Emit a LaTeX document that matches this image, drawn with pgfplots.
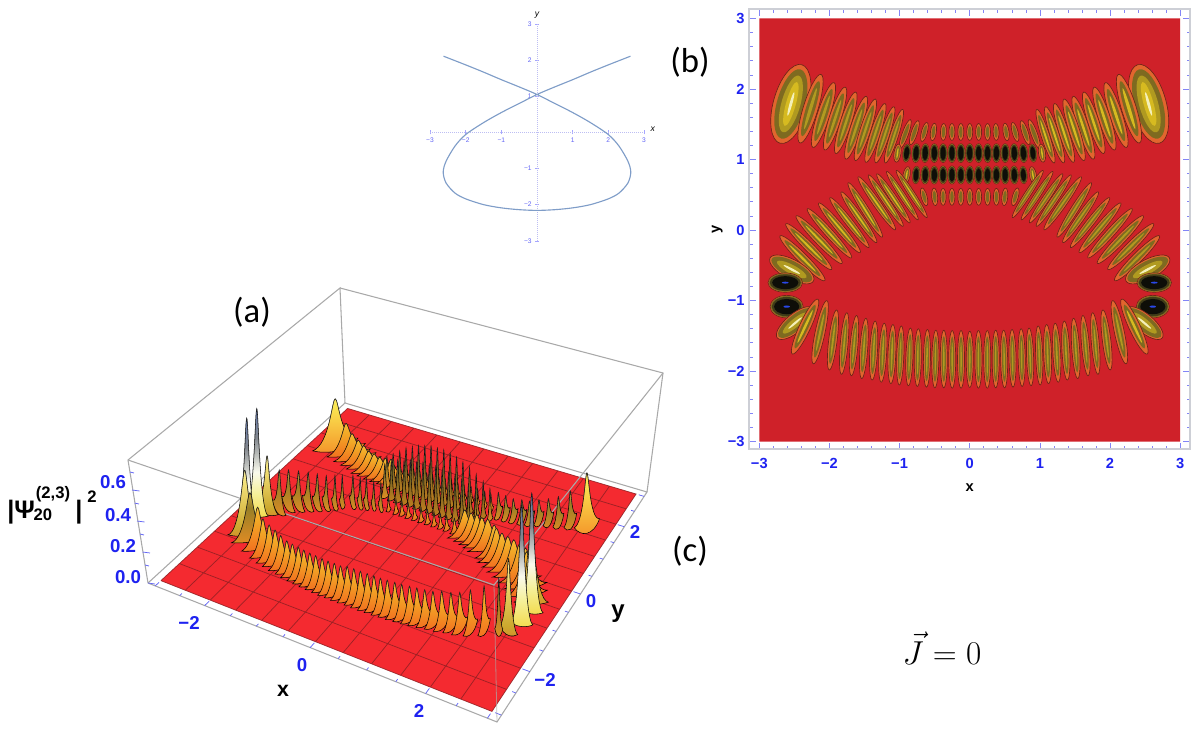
\documentclass[border=0pt]{standalone}
\usepackage{pgfplots}
\usepackage{pgfplotstable}
\pgfplotsset{compat=1.18}
\usepackage{fontspec}
\setmainfont{Liberation Sans}
\newfontfamily\callab{Carlito}

\definecolor{tickblue}{HTML}{1E22F0}
\definecolor{bred}{HTML}{CF2129}
\definecolor{fred}{HTML}{F42A30}
\definecolor{gridred}{HTML}{8E1F22}
\definecolor{boxgray}{HTML}{A9A9A9}
\definecolor{curveblue}{HTML}{7F9DC8}
\definecolor{frameg}{HTML}{CDCFD6}
\definecolor{lorange}{HTML}{E2652E}
\definecolor{lolive}{HTML}{7E6A20}
\definecolor{lyellow}{HTML}{D6BA20}
\definecolor{ldark}{HTML}{403C18}
\definecolor{lblack}{HTML}{0E0E08}
\definecolor{ledge}{HTML}{6E2418}
\definecolor{glow}{HTML}{F0802E}
\definecolor{lwhite}{HTML}{F4F0B8}
\definecolor{lblue}{HTML}{2A48E8}
\definecolor{lmid}{HTML}{B09A20}

\pgfdeclareverticalshading{lobe0}{100bp}{rgb(0bp)=(.957,.22,.16);rgb(22bp)=(.95,.42,.12);rgb(60bp)=(.95,.66,.15);rgb(100bp)=(.96,.84,.3)}
\pgfdeclareverticalshading{lobe1}{100bp}{rgb(0bp)=(.957,.22,.16);rgb(22bp)=(.9,.55,.14);rgb(60bp)=(.6,.5,.15);rgb(86bp)=(.9,.82,.35);rgb(100bp)=(.95,.93,.7)}
\pgfdeclareverticalshading{lobe2}{100bp}{rgb(0bp)=(.957,.22,.16);rgb(20bp)=(.8,.5,.12);rgb(58bp)=(.45,.4,.14);rgb(85bp)=(.85,.78,.38);rgb(100bp)=(.94,.94,.82)}
\pgfdeclareverticalshading{lobe3}{100bp}{rgb(0bp)=(.957,.22,.16);rgb(45bp)=(.9,.55,.12);rgb(100bp)=(.93,.8,.25)}
\pgfdeclareverticalshading{lobe4}{100bp}{rgb(0bp)=(.957,.22,.16);rgb(30bp)=(.96,.62,.18);rgb(68bp)=(.98,.9,.32);rgb(100bp)=(1,.97,.62)}
\pgfdeclareverticalshading{lobe5}{100bp}{rgb(0bp)=(.957,.22,.16);rgb(12bp)=(.88,.55,.12);rgb(24bp)=(.95,.85,.28);rgb(36bp)=(.96,.94,.6);rgb(46bp)=(.98,.98,.93);rgb(62bp)=(.5,.52,.55);rgb(80bp)=(.38,.5,.8);rgb(100bp)=(.18,.34,.85)}
\pgfdeclareverticalshading{lobe6}{100bp}{rgb(0bp)=(.957,.22,.16);rgb(32bp)=(.8,.66,.18);rgb(68bp)=(.96,.9,.5);rgb(88bp)=(.96,.95,.85);rgb(100bp)=(.72,.72,.72)}
\pgfdeclareplotmark{nothing}{}

% one row per lobe of the density: centre, half length, half width, angle of the long axis, peak height, kind
\pgfplotstableread{
x y L W a h c
-2.55 1.787 .58 .25 74.5 .30 4
2.55 1.787 .58 .25 105.5 .30 4
-2.27 1.72 .51 .105 73 .175 0
2.27 1.72 .51 .105 107 .175 1
-2.085 1.63 .485 .09 72 .14 0
2.085 1.63 .485 .09 108 .14 1
-1.92 1.58 .47 .085 72 .12 0
1.92 1.58 .47 .085 108 .12 1
-1.767 1.52 .46 .08 72 .11 0
1.767 1.52 .46 .08 108 .11 1
-1.62 1.45 .47 .08 72 .10 0
1.62 1.45 .47 .08 108 .10 1
-1.487 1.42 .46 .075 72 .10 0
1.487 1.42 .46 .075 108 .10 1
-1.344 1.376 .44 .07 72 .10 0
1.344 1.376 .44 .07 108 .10 1
-1.21 1.35 .42 .065 72 .11 0
1.21 1.35 .42 .065 108 .11 1
-1.08 1.33 .40 .06 72 .12 0
1.08 1.33 .40 .06 108 .12 1
-.92 1.36 .22 .045 70 .09 3
-.79 1.38 .18 .045 72 .09 3
-.646 1.39 .14 .042 75 .09 3
-.518 1.39 .125 .042 82 .09 3
-.375 1.39 .12 .042 88 .09 3
-.254 1.39 .12 .042 90 .09 3
-.127 1.39 .12 .042 90 .09 3
0 1.39 .12 .042 90 .09 3
.127 1.39 .12 .042 90 .09 3
.254 1.39 .12 .042 90 .09 3
.375 1.39 .12 .042 92 .09 3
.518 1.39 .125 .042 98 .09 3
.646 1.39 .14 .042 105 .09 3
.79 1.38 .18 .045 108 .09 3
.92 1.36 .22 .045 110 .09 3
-1.03 1.09 .13 .05 82 .18 1
-.9 1.09 .13 .055 84 .21 2
-.765 1.09 .135 .06 86 .24 2
-.635 1.09 .135 .06 88 .27 2
-.505 1.09 .135 .06 90 .29 2
-.38 1.09 .135 .06 90 .31 2
-.254 1.09 .135 .06 90 .32 2
-.127 1.09 .135 .06 90 .33 2
0 1.09 .135 .06 90 .33 2
.127 1.09 .135 .06 90 .33 2
.254 1.09 .135 .06 90 .32 2
.38 1.09 .135 .06 90 .31 2
.505 1.09 .135 .06 90 .29 2
.635 1.09 .135 .06 92 .27 2
.765 1.09 .135 .06 94 .24 2
.9 1.09 .13 .055 96 .21 2
1.03 1.09 .13 .05 98 .18 1
-.9 .78 .12 .05 80 .2 1
-.765 .78 .125 .055 86 .23 2
-.635 .78 .13 .06 88 .25 2
-.505 .78 .13 .06 90 .26 2
-.38 .78 .13 .06 90 .27 2
-.254 .78 .13 .06 90 .27 2
-.127 .78 .13 .06 90 .28 2
0 .78 .13 .06 90 .28 2
.127 .78 .13 .06 90 .28 2
.254 .78 .13 .06 90 .27 2
.38 .78 .13 .06 90 .27 2
.505 .78 .13 .06 90 .26 2
.635 .78 .13 .06 92 .25 2
.765 .78 .125 .055 94 .23 2
.9 .78 .12 .05 100 .2 1
-.65 .47 .13 .042 105 .08 3
-.5 .47 .125 .042 95 .08 3
-.38 .47 .12 .042 90 .08 3
-.254 .47 .12 .042 90 .08 3
-.127 .47 .12 .042 90 .08 3
0 .47 .12 .042 90 .08 3
.127 .47 .12 .042 90 .08 3
.254 .47 .12 .042 90 .08 3
.38 .47 .12 .042 90 .08 3
.5 .47 .125 .042 85 .08 3
.65 .47 .13 .042 75 .08 3
-.827 .51 .40 .045 -57 .14 1
.827 .51 .40 .045 57 .14 0
-.96 .487 .41 .045 -57 .14 1
.96 .487 .41 .045 57 .14 0
-1.088 .449 .42 .05 -56 .15 1
1.088 .449 .42 .05 56 .15 0
-1.197 .416 .44 .05 -56 .15 1
1.197 .416 .44 .05 56 .15 0
-1.325 .378 .46 .055 -55 .16 1
1.325 .378 .46 .055 55 .16 0
-1.49 .284 .456 .055 -58 .16 1
1.49 .284 .456 .055 58 .16 0
-1.58 .18 .44 .055 -55 .17 1
1.58 .18 .44 .055 55 .17 0
-1.715 .105 .45 .055 -52 .17 1
1.715 .105 .45 .055 52 .17 0
-1.857 .03 .46 .06 -50 .18 1
1.857 .03 .46 .06 50 .18 0
-2.0 -.047 .47 .06 -48 .19 1
2.0 -.047 .47 .06 48 .19 0
-2.147 -.137 .47 .065 -46 .2 1
2.147 -.137 .47 .065 46 .2 0
-2.295 -.236 .46 .065 -45 .21 1
2.295 -.236 .46 .065 45 .21 0
-2.385 -.40 .45 .07 -45 .23 1
2.385 -.40 .45 .07 45 .23 0
-2.537 -.56 .35 .14 -28 .33 6
2.537 -.56 .35 .14 28 .40 6
-2.63 -.747 .245 .137 0 .64 5
2.63 -.747 .245 .137 0 .64 5
-2.61 -1.087 .235 .16 0 .64 5
2.61 -1.087 .235 .16 0 .64 5
-2.49 -1.32 .33 .13 40 .38 6
2.49 -1.32 .33 .13 140 .38 6
-2.347 -1.37 .43 .08 65 .27 1
2.347 -1.37 .43 .08 115 .27 1
-2.133 -1.45 .46 .07 78 .22 0
-1.95 -1.56 .43 .06 83 .19 0
-1.79 -1.61 .44 .055 85 .18 0
-1.65 -1.64 .43 .055 85 .17 0
-1.51 -1.68 .43 .055 86 .16 0
-1.37 -1.71 .42 .055 87 .15 0
-1.24 -1.74 .42 .055 87 .15 0
-1.11 -1.76 .42 .055 88 .15 0
-.99 -1.78 .42 .05 88 .15 0
-.86 -1.80 .41 .05 88 .15 0
-.74 -1.81 .41 .05 89 .15 0
-.61 -1.82 .41 .05 89 .15 0
-.49 -1.83 .41 .05 89 .15 0
-.37 -1.83 .41 .05 90 .15 0
-.25 -1.835 .41 .05 90 .15 0
-.124 -1.835 .41 .05 90 .16 0
0 -1.835 .40 .05 90 .16 0
.124 -1.835 .41 .05 90 .16 0
.25 -1.835 .41 .05 90 .16 0
.37 -1.83 .41 .05 90 .16 0
.49 -1.83 .41 .05 91 .16 0
.61 -1.82 .41 .05 91 .16 0
.74 -1.81 .41 .05 91 .16 0
.86 -1.80 .41 .05 92 .16 0
.99 -1.78 .42 .05 92 .16 0
1.11 -1.76 .42 .055 92 .16 0
1.24 -1.74 .42 .055 93 .16 0
1.37 -1.71 .42 .055 93 .16 0
1.51 -1.68 .43 .055 94 .17 0
1.65 -1.64 .43 .055 95 .17 0
1.79 -1.61 .44 .055 95 .18 0
1.95 -1.56 .43 .06 97 .20 0
2.133 -1.45 .46 .07 102 .22 0
}\lobes

% grid of the floor, one line that runs back and forth
\pgfplotstableread{
x y
-3 -3
3 -3
3 -2.5
-3 -2.5
-3 -2
3 -2
3 -1.5
-3 -1.5
-3 -1
3 -1
3 -.5
-3 -.5
-3 0
3 0
3 .5
-3 .5
-3 1
3 1
3 1.5
-3 1.5
-3 2
3 2
3 2.5
-3 2.5
-3 3
3 3
3 -3
2.5 -3
2.5 3
2 3
2 -3
1.5 -3
1.5 3
1 3
1 -3
.5 -3
.5 3
0 3
0 -3
-.5 -3
-.5 3
-1 3
-1 -3
-1.5 -3
-1.5 3
-2 3
-2 -3
-2.5 -3
-2.5 3
-3 3
-3 -3
}\floorgrid

\pgfplotstableread{
x y
-3 -3.15
-3 -3.05
nan nan
-2.5 -3.15
-2.5 -3.09
nan nan
-2 -3.15
-2 -3.03
nan nan
-1.5 -3.15
-1.5 -3.09
nan nan
-1 -3.15
-1 -3.09
nan nan
-.5 -3.15
-.5 -3.09
nan nan
0 -3.15
0 -3.03
nan nan
.5 -3.15
.5 -3.09
nan nan
1 -3.15
1 -3.09
nan nan
1.5 -3.15
1.5 -3.09
nan nan
2 -3.15
2 -3.03
nan nan
2.5 -3.15
2.5 -3.09
nan nan
3 -3.15
3 -3.05
nan nan
3.15 -3
3.05 -3
nan nan
3.15 -2.5
3.09 -2.5
nan nan
3.15 -2
3.03 -2
nan nan
3.15 -1.5
3.09 -1.5
nan nan
3.15 -1
3.09 -1
nan nan
3.15 -.5
3.09 -.5
nan nan
3.15 0
3.03 0
nan nan
3.15 .5
3.09 .5
nan nan
3.15 1
3.09 1
nan nan
3.15 1.5
3.09 1.5
nan nan
3.15 2
3.03 2
nan nan
3.15 2.5
3.09 2.5
nan nan
3.15 3
3.05 3
}\floorticks

% flat contour view of a lobe, in pgf's own terms so that the axis does not rescale the radii
\newcommand\ring[3]{%
  \pgfsetfillcolor{#1}%
  \pgfpathellipse{\pgfpointorigin}{\pgfpoint{#2*\rL pt}{0pt}}{\pgfpoint{0pt}{#3*\rW pt}}%
  \pgfusepath{fill}}
\newcommand\lobeFlat{%
  \pgfmathtruncatemacro\cc{\lC}%
  \pgfmathsetmacro\rL{\lL*52.7}\pgfmathsetmacro\rW{\lW*52.7}%
  \pgfscope
  \pgftransformrotate{\lA}%
  \pgfsetlinewidth{.5pt}\pgfsetstrokecolor{ledge}\pgfsetfillcolor{lorange}%
  \pgfpathellipse{\pgfpointorigin}{\pgfpoint{\rL pt}{0pt}}{\pgfpoint{0pt}{\rW pt}}%
  \pgfusepath{fill,stroke}%
  \ifcase\cc\relax
    \ring{lolive}{.8}{.62}\ring{lmid}{.6}{.22}%
  \or
    \ring{lolive}{.8}{.62}\ring{lyellow}{.6}{.22}%
  \or
    \ring{lolive}{.96}{.94}\ring{ldark}{.88}{.84}\ring{lblack}{.72}{.62}%
  \or
    \ring{lolive}{.72}{.56}%
  \or
    \ring{lolive}{.88}{.8}\ring{lmid}{.72}{.54}\ring{lyellow}{.56}{.28}\ring{lwhite}{.3}{.08}%
  \or
    \ring{lolive}{.97}{.95}\ring{ldark}{.9}{.86}\ring{lblack}{.76}{.68}\ring{lblue}{.2}{.1}%
  \or
    \ring{lolive}{.92}{.84}\ring{lmid}{.68}{.46}\ring{lwhite}{.38}{.12}%
  \fi
  \endpgfscope
}
% perspective view of a lobe: the vectors of the axes at this place of the floor
\newcommand\lobeVectors{%
  \pgfmathsetmacro\uu{(\lX+3.15)/6.3}\pgfmathsetmacro\vv{(\lY+3.15)/6.3}%
  \pgfmathsetmacro\ww{1-.13183*\uu+.22111*\vv}%
  \pgfmathsetmacro\HH{\lH*177/\ww*.75}%
  \pgfmathsetmacro\Xx{(55.4-7.5*\vv)*.75}\pgfmathsetmacro\Xy{-(22-7.9*\vv)*.75}%
  \pgfmathsetmacro\Yx{(31.3-7.5*\uu)*.75}\pgfmathsetmacro\Yy{(28.6+7.9*\uu)*.75}%
  \pgfmathsetmacro\ca{cos(\lA)}\pgfmathsetmacro\sa{sin(\lA)}%
  \pgfmathsetmacro\Bx{\lL*(\ca*\Xx+\sa*\Yx)}\pgfmathsetmacro\By{\lL*(\ca*\Xy+\sa*\Yy)}%
  \pgfmathsetmacro\Px{\lW*(-\sa*\Xx+\ca*\Yx)}\pgfmathsetmacro\Py{\lW*(-\sa*\Xy+\ca*\Yy)}%
}
\newcommand\lobeGlow{%
  \lobeVectors
  \fill[glow,opacity=.5,cm={1.2*\Bx,1.2*\By,2.6*\Px,2.6*\Py,(0pt,0pt)}] (0pt,0pt) circle (1pt);
}
\newcommand\lobeRaised{%
  \pgfmathtruncatemacro\cc{\lC}%
  \lobeVectors
  \pgfmathsetmacro\ex{max(.85*sqrt(\Bx*\Bx+\Px*\Px),.01)}%
  \pgfmathsetmacro\ey{.5*(\Bx*\By+\Px*\Py)/\ex}%
  \pgfmathsetmacro\fy{max(.6*sqrt(\By*\By+\Py*\Py),.01)}%
  \def\bell{({-1*(\ex)*1pt},{-1*(\ey)*1pt})
     .. controls ({-.24*(\ex)*1pt},{-.24*(\ey)*1pt+.03*\HH*1pt}) and ({-.15*(\ex)*1pt},{\HH*1pt}) .. (0pt,{\HH*1pt})
     .. controls ({.15*(\ex)*1pt},{\HH*1pt}) and ({.24*(\ex)*1pt},{.24*(\ey)*1pt+.03*\HH*1pt}) .. ({(\ex)*1pt},{(\ey)*1pt})}%
  \shade[shading=lobe\cc] \bell .. controls ({.5*(\ex)*1pt},{-1*(\fy)*1pt}) and ({-.5*(\ex)*1pt},{-1*(\fy)*1pt}) .. cycle;
  \draw[black!70,opacity=.55,line width=.25pt]
     ({-.271*(\ex)*1pt},{-.215*(\ey)*1pt+.511*\HH*1pt})
     .. controls ({-.135*(\ex)*1pt},{-.06*(\ey)*1pt+.7575*\HH*1pt}) and ({-.075*(\ex)*1pt},{\HH*1pt}) .. (0pt,{\HH*1pt})
     .. controls ({.075*(\ex)*1pt},{\HH*1pt}) and ({.135*(\ex)*1pt},{.06*(\ey)*1pt+.7575*\HH*1pt}) .. ({.271*(\ex)*1pt},{.215*(\ey)*1pt+.511*\HH*1pt});
}
\pgfplotsset{
  lobe data/.style={
    scatter,only marks,mark=nothing,
    visualization depends on={\thisrow{x}\as\lX},
    visualization depends on={\thisrow{y}\as\lY},
    visualization depends on={\thisrow{L}\as\lL},
    visualization depends on={\thisrow{W}\as\lW},
    visualization depends on={\thisrow{a}\as\lA},
    visualization depends on={\thisrow{h}\as\lH},
    visualization depends on={\thisrow{c}\as\lC},
    scatter/@post marker code/.code={},
  },
}

\begin{document}
\begin{tikzpicture}[x=1pt,y=1pt]
\path[use as bounding box] (0pt,0pt) rectangle (897pt,563.25pt);
%---------------------------- whole page in pixels: panel (a) and the free texts
\begin{axis}[
  at={(0pt,0pt)},anchor=south west,scale only axis,
  width=897pt,height=563.25pt,
  xmin=0,xmax=1196,ymin=0,ymax=751,
  hide axis,clip=false,
  /pgf/declare function={
    PW(\x,\y)=1-.13183*(\x+3.15)/6.3+.22111*(\y+3.15)/6.3;
    PX(\x,\y)=(283.48*(\x+3.15)/6.3+273.28*(\y+3.15)/6.3+148)/PW(\x,\y);
    PY(\x,\y)=751-(43.82*(\x+3.15)/6.3-90.89*(\y+3.15)/6.3+583)/PW(\x,\y);
  },
  unbounded coords=jump,
]
% box, back part
\addplot[boxgray,line width=.8pt] coordinates {(148,168)(128,291)(340,463)(345,348)};
\addplot[boxgray,line width=.8pt] coordinates {(340,463)(663,378)(647,259)};
% floor
\addplot[draw=none,fill=fred] table[x expr={PX(\thisrow{x},\thisrow{y})},y expr={PY(\thisrow{x},\thisrow{y})}] {
x y
-3 -3
3 -3
3 3
-3 3
-3 -3
};
\addplot[gridred,line width=.55pt,opacity=.85] table[x expr={PX(\thisrow{x},\thisrow{y})},y expr={PY(\thisrow{x},\thisrow{y})}] {\floorgrid};
\addplot[boxgray,line width=.8pt] coordinates {(148,168)(345,348)(647,259)(497,29)(148,168)};
\addplot[tickblue!70!white,line width=.55pt] table[x expr={PX(\thisrow{x},\thisrow{y})},y expr={PY(\thisrow{x},\thisrow{y})}] {\floorticks};
% lobes: first the glow on the floor, then the raised peaks
\addplot[lobe data,scatter/@pre marker code/.code={\lobeGlow}] table[x expr={PX(\thisrow{x},\thisrow{y})},y expr={PY(\thisrow{x},\thisrow{y})}] {\lobes};
\addplot[lobe data,scatter/@pre marker code/.code={\lobeRaised}] table[x expr={PX(\thisrow{x},\thisrow{y})},y expr={PY(\thisrow{x},\thisrow{y})}] {\lobes};
% box, front part
\addplot[boxgray,line width=.8pt] coordinates {(128,291)(494,166)(663,378)};
\addplot[boxgray,line width=.6pt,opacity=.7] coordinates {(494,166)(497,29)};
% vertical scale
\addplot[tickblue!70!white,line width=.55pt,unbounded coords=jump] coordinates {
 (148,168)(155,167) (nan,nan)
 (145,186)(149,185) (nan,nan)
 (142.5,199)(150,198) (nan,nan)
 (140,217)(144,216) (nan,nan)
 (137,230)(144.5,229) (nan,nan)
 (134.5,248)(139,247) (nan,nan)
 (132,261)(139.5,260) (nan,nan)
 (130,279)(134,278)
};
\node[font=\bfseries\fontsize{14}{14}\selectfont,text=tickblue] at (axis cs:189,128) {−2};
\node[font=\bfseries\fontsize{14}{14}\selectfont,text=tickblue] at (axis cs:302,86) {0};
\node[font=\bfseries\fontsize{14}{14}\selectfont,text=tickblue] at (axis cs:419,40) {2};
\node[font=\bfseries\fontsize{14}{14}\selectfont,text=tickblue] at (axis cs:545,71) {−2};
\node[font=\bfseries\fontsize{14}{14}\selectfont,text=tickblue] at (axis cs:591,150) {0};
\node[font=\bfseries\fontsize{14}{14}\selectfont,text=tickblue] at (axis cs:635,219) {2};
\node[font=\bfseries\fontsize{14}{14}\selectfont,text=tickblue] at (axis cs:128,174) {0.0};
\node[font=\bfseries\fontsize{14}{14}\selectfont,text=tickblue] at (axis cs:123,205) {0.2};
\node[font=\bfseries\fontsize{14}{14}\selectfont,text=tickblue] at (axis cs:118,236) {0.4};
\node[font=\bfseries\fontsize{14}{14}\selectfont,text=tickblue] at (axis cs:113,269) {0.6};
\node[font=\bfseries\fontsize{16}{16}\selectfont] at (axis cs:283,60) {x};
\node[font=\bfseries\fontsize{18}{18}\selectfont] at (axis cs:618,137) {y};
\node[font=\bfseries\fontsize{19}{19}\selectfont,inner sep=0pt,anchor=west] at (axis cs:7,239) {|Ψ};
\node[font=\bfseries\fontsize{12.5}{12.5}\selectfont,inner sep=0pt] at (axis cs:53,257) {(2,3)};
\node[font=\bfseries\fontsize{12.5}{12.5}\selectfont,inner sep=0pt] at (axis cs:43,236) {20};
\node[font=\bfseries\fontsize{19}{19}\selectfont,inner sep=0pt] at (axis cs:79,239) {|};
\node[font=\bfseries\fontsize{12.5}{12.5}\selectfont,inner sep=0pt] at (axis cs:92,254) {2};
\node[font=\callab\fontsize{26}{26}\selectfont] at (axis cs:252,439) {(a)};
\node[font=\callab\fontsize{26}{26}\selectfont] at (axis cs:690,689) {(b)};
\node[font=\callab\fontsize{26}{26}\selectfont] at (axis cs:690,200) {(c)};
\node[font=\fontsize{46}{46}\selectfont] at (axis cs:942,103) {$\vec{J}=0$};
\end{axis}
%---------------------------- the curve
\begin{axis}[
  at={(322.5pt,382.7pt)},anchor=south west,scale only axis,
  width=160.5pt,height=162.5pt,
  xmin=-3,xmax=3,ymin=-3,ymax=3,
  axis lines=center,clip=false,
  axis line style={frameg!60!blue!50!white,densely dotted,line width=.5pt,-},
  xtick={-3,-2,-1,1,2,3},ytick={-3,-2,-1,1,2,3},
  xticklabels={−3,−2,−1,1,2,3},yticklabels={−3,−2,−1,1,2,3},
  minor tick num=4,
  tick style={blue!35!white,line width=.3pt},
  major tick length=3pt,minor tick length=1.5pt,
  tick label style={font=\fontsize{5}{5}\selectfont,text=tickblue!70!white,fill=none},
  xticklabel style={yshift=1pt},yticklabel style={xshift=1pt},
  xlabel={\itshape x},ylabel={\itshape y},
  xlabel style={font=\fontsize{6.5}{6.5}\selectfont,at={(axis cs:3.25,.1)},anchor=center},
  ylabel style={font=\fontsize{6.5}{6.5}\selectfont,at={(axis cs:0,3.25)},anchor=center},
]
\addplot[curveblue,line width=.85pt,smooth,tension=.5] coordinates {
(-2.62,2.11)(-2,1.87)(-1.5,1.67)(-1,1.46)(-.5,1.26)(0,1.05)(.5,.8)(1,.55)(1.5,.27)(2,-.06)(2.3,-.38)(2.55,-.8)(2.63,-1.1)(2.55,-1.4)(2.3,-1.68)(2,-1.84)(1.5,-2.0)(1,-2.09)(.5,-2.14)(0,-2.16)(-.5,-2.14)(-1,-2.09)(-1.5,-2.0)(-2,-1.84)(-2.3,-1.68)(-2.55,-1.4)(-2.63,-1.1)(-2.55,-.8)(-2.3,-.38)(-2,-.06)(-1.5,.27)(-1,.55)(-.5,.8)(0,1.05)(.5,1.26)(1,1.46)(1.5,1.67)(2,1.87)(2.62,2.11)};
\end{axis}
%---------------------------- panel (b)
\begin{axis}[
  at={(562pt,226.3pt)},anchor=south west,scale only axis,
  width=330.5pt,height=330pt,
  xmin=-3.142,xmax=3.14,ymin=-3.11,ymax=3.13,
  axis line style={frameg,line width=1.4pt},
  xtick={-3,-2,-1,0,1,2,3},ytick={-3,-2,-1,0,1,2,3},
  xticklabels={−3,−2,−1,0,1,2,3},yticklabels={−3,−2,−1,0,1,2,3},
  minor tick num=4,
  tick style={tickblue!55!white,line width=.5pt},
  major tick length=5pt,minor tick length=2.5pt,
  tick label style={font=\bfseries\fontsize{11}{11}\selectfont,text=tickblue},
  xticklabel style={yshift=-3pt},
  xlabel={x},ylabel={y},
  label style={font=\bfseries\fontsize{11}{11}\selectfont},
  xlabel style={yshift=-5pt},ylabel style={yshift=-3pt},
]
\addplot[draw=none,fill=bred] coordinates {(-3,-3)(3,-3)(3,3)(-3,3)(-3,-3)};
\addplot[lobe data,scatter/@pre marker code/.code={\lobeFlat}] table[x=x,y=y] {\lobes};
\end{axis}
\end{tikzpicture}
\end{document}
